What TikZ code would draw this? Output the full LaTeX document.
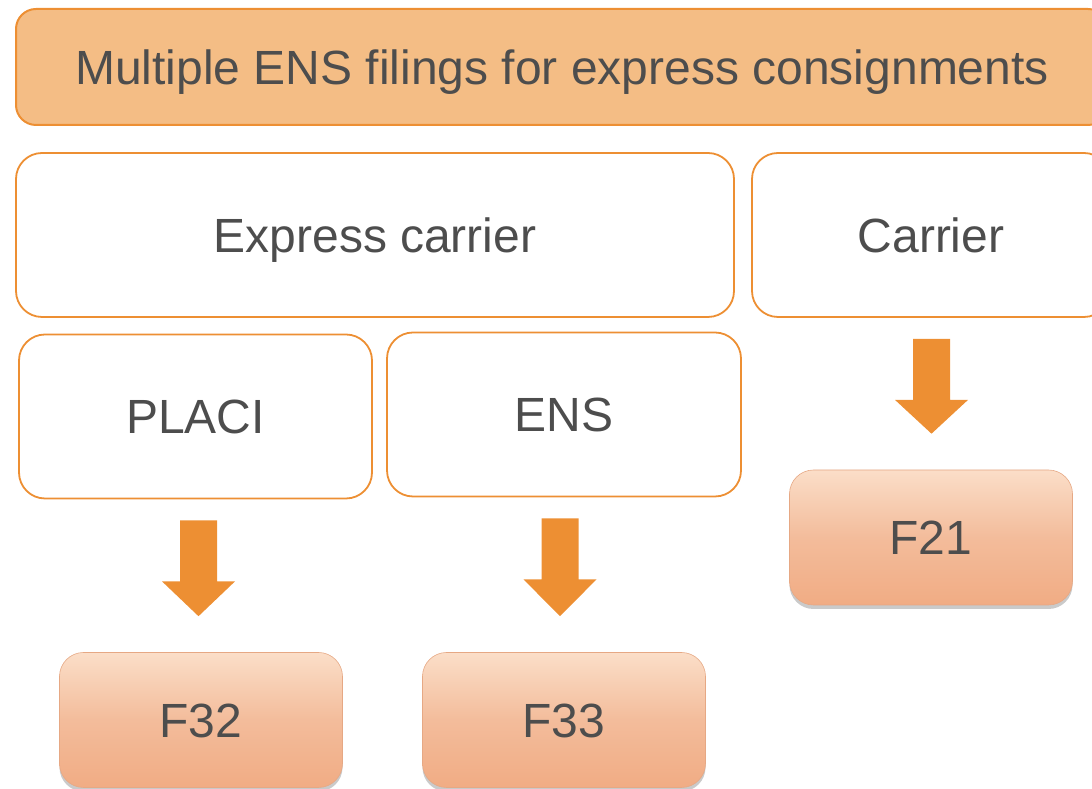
\documentclass[tikz,border=0pt]{standalone}
\usepackage{fontspec}
\setmainfont{Liberation Sans}
\usepackage{tikz}
\usetikzlibrary{shadows}
\usetikzlibrary{positioning}
\usetikzlibrary{calc}

\definecolor{ensorange}{RGB}{237,143,51}
\definecolor{titlefill}{RGB}{244,189,133}
\definecolor{labelgrey}{RGB}{77,77,77}
\definecolor{bevtop}{RGB}{251,222,200}
\definecolor{bevmid}{RGB}{243,188,155}
\definecolor{bevbot}{RGB}{241,172,132}

\tikzstyle{bigtext}=[text=labelgrey, font=\fontsize{48}{56}\selectfont, inner sep=0pt, text height=34.5pt, text depth=0pt]
\tikzstyle{titlebox}=[bigtext, rectangle, rounded corners=20pt, draw=ensorange, line width=2pt, fill=titlefill]
\tikzstyle{rolebox}=[bigtext, rectangle, rounded corners=26pt, draw=ensorange, line width=1.8pt, fill=white]
\tikzstyle{msgbox}=[bigtext, rectangle, rounded corners=24pt, draw=bevbot!90!gray, line width=0.6pt,
  top color=bevtop, bottom color=bevbot, middle color=bevmid,
  drop shadow={shadow xshift=0pt, shadow yshift=-4pt, opacity=0.35, fill=black!60}]
\tikzstyle{blockarrow}=[fill=ensorange]

\begin{document}
\begin{tikzpicture}[x=1pt, y=1pt]

  \useasboundingbox (0,0) rectangle (1092,789);

  \node[titlebox, minimum width=1092pt, minimum height=116pt] (title) at (562,722)
        {Multiple ENS filings for express consignments};

  \foreach \x/\y/\w/\name/\label in {375/554/718/express/Express carrier, 931/554/358/carrier/Carrier,
                                      195.5/372.5/353/placi/PLACI, 564/374.5/354/ens/ENS}
          \node[rolebox, minimum width=\w pt, minimum height=164pt] (\name) at (\x,\y) {\label};

  \foreach \x/\y/\name/\label in {931/251.5/f21/F21, 201/69/f32/F32, 564/69/f33/F33}
          \node[msgbox, minimum width=283pt, minimum height=135pt] (\name) at (\x,\y) {\label};

  \foreach \src/\dst/\dx in {placi/f32/-2.5, ens/f33/-4, carrier/f21/0.5}
  {
    \path ($(\src.south -| \dst.north)+(\dx,-21)$) coordinate (atop)
          ($(\dst.north)+(\dx,36)$) coordinate (atip);
    \fill[blockarrow] ($(atop)+(-18.5,0)$) -- ($(atop)+(18.5,0)$) -- ($(atop)+(18.5,-61)$)
          -- ($(atop)+(36.5,-61)$) -- (atip) -- ($(atop)+(-36.5,-61)$) -- ($(atop)+(-18.5,-61)$) -- cycle;
  }

\end{tikzpicture}
\end{document}
